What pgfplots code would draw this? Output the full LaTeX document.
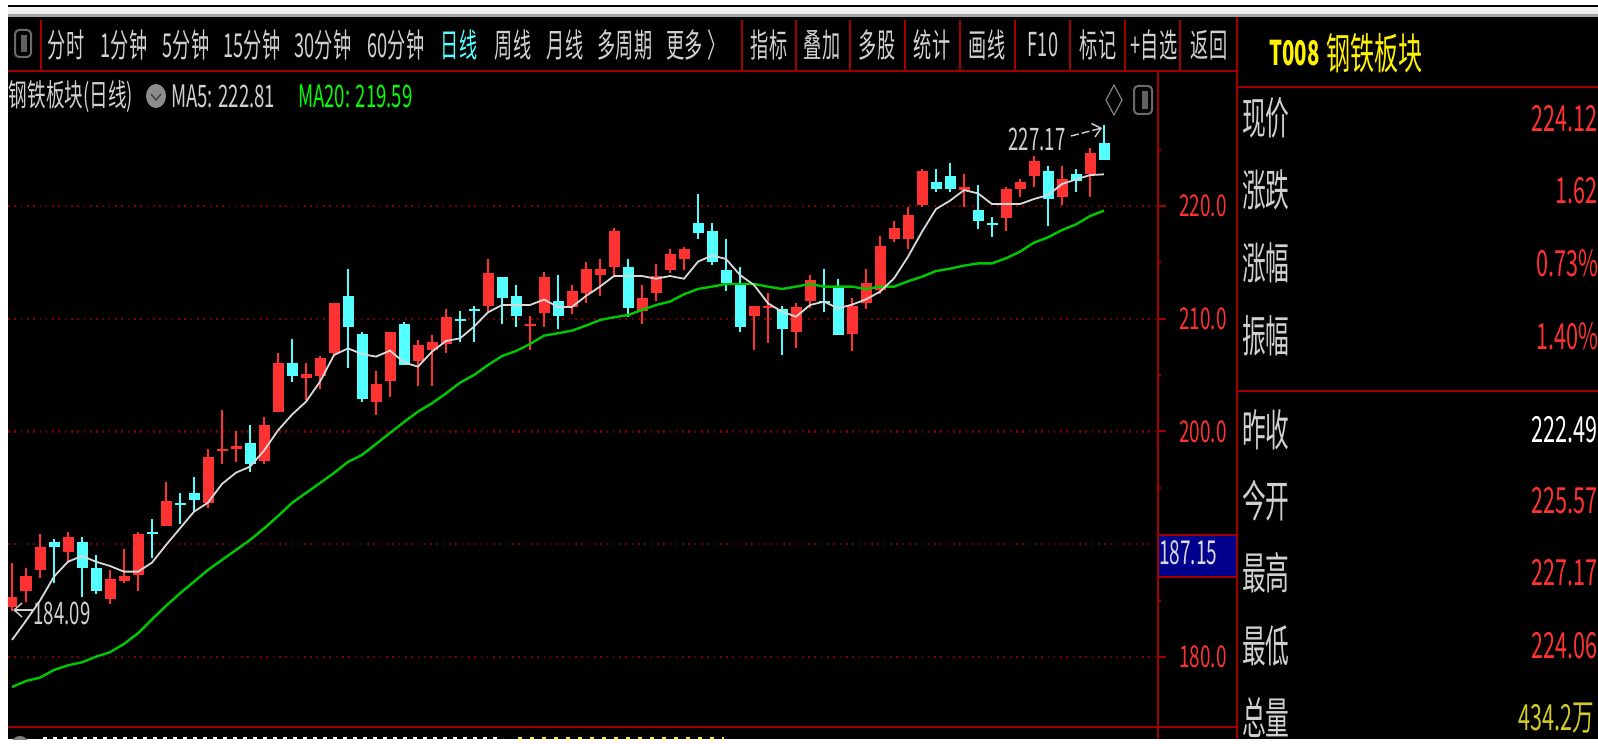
\documentclass[border=0pt]{standalone}
\usepackage{fontspec}
\usepackage{pgfplots}
\usepackage{pgfplotstable}
\pgfplotsset{compat=1.18}
\usetikzlibrary{arrows.meta}
\setmainfont{Noto Sans CJK SC}

\definecolor{upred}{HTML}{FF3232}
\definecolor{downcyan}{HTML}{54FFFF}
\definecolor{linered}{HTML}{A00000}
\definecolor{gridred}{HTML}{800000}
\definecolor{ma5}{HTML}{D8D8D8}
\definecolor{ma20}{HTML}{00C800}
\definecolor{uigray}{HTML}{D0D0D0}

% x  bot  top  lo  hi
\pgfplotstableread{
x bot top lo hi
0 184.47 185.35 184.09 188.37
1 185.85 187.21 184.91 187.92
2 187.72 189.79 186.98 190.91
4 189.28 190.65 188.45 191.12
7 185.17 186.95 184.70 187.72
8 186.77 187.19 186.53 189.55
9 187.27 190.88 185.85 191.12
11 191.62 193.87 191.62 195.49
14 193.69 197.77 193.19 198.48
15 198.24 198.48 197.12 201.91
16 198.48 198.72 197.33 200.08
18 197.36 200.55 197.12 201.26
19 201.70 206.04 201.70 206.99
21 204.71 205.13 202.79 206.04
22 204.92 206.52 203.74 206.69
23 206.99 211.37 206.78 211.37
26 202.61 204.24 201.46 205.39
27 204.48 208.85 203.09 208.85
29 206.28 207.67 204.03 208.11
30 207.23 207.91 204.03 208.56
31 207.76 210.18 206.99 210.89
34 211.13 214.09 210.63 215.27
37 209.33 209.50 207.23 210.24
38 210.48 213.67 209.30 214.12
40 211.01 212.49 210.42 212.97
41 212.25 214.38 211.37 215.03
42 213.88 214.38 212.05 215.27
43 214.56 217.81 213.88 218.02
45 210.72 211.81 209.53 212.97
46 212.31 213.79 211.60 214.83
47 214.32 215.71 214.09 216.16
48 215.27 216.16 214.32 216.39
53 210.25 211.13 207.23 211.13
54 210.92 211.13 207.88 212.25
56 208.82 211.07 207.43 211.37
57 211.60 213.44 210.92 213.88
60 208.62 211.13 207.17 211.81
61 211.43 213.20 210.86 214.38
62 212.55 216.45 212.19 217.34
63 217.10 218.02 216.83 218.70
64 217.10 219.17 216.15 219.88
65 220.09 223.07 219.88 223.25
68 221.41 221.71 219.88 222.83
71 218.94 221.48 217.81 221.71
72 221.48 222.16 220.77 222.39
73 222.63 224.00 221.71 224.46
75 220.77 222.36 220.09 223.55
77 222.84 224.67 220.77 225.17
}\upcandles

\pgfplotstableread{
x bot top lo hi
3 189.79 190.23 186.53 190.44
5 187.92 190.17 185.35 190.67
6 185.85 187.87 185.59 189.05
10 190.88 191.12 188.81 192.27
12 193.45 193.63 191.80 194.58
13 193.93 194.58 192.98 195.94
17 197.12 198.95 196.44 200.55
20 204.92 206.04 204.42 208.17
24 209.30 212.05 205.60 214.38
25 202.85 208.62 202.61 208.85
28 205.87 209.53 205.87 209.68
32 209.77 209.95 207.91 210.69
33 210.69 210.89 207.91 211.13
35 211.81 213.67 209.50 213.67
36 210.24 212.05 209.30 212.96
39 210.25 211.60 209.06 213.91
44 210.92 214.56 210.18 215.27
49 217.57 218.46 217.10 221.03
50 215.06 217.75 214.77 218.46
51 213.14 214.32 212.49 217.10
52 209.30 212.99 208.82 214.56
55 209.06 210.89 206.79 211.13
58 211.37 211.60 210.63 214.38
59 208.59 212.79 208.59 213.50
66 221.48 222.16 221.21 223.31
67 221.48 222.63 221.21 223.78
69 218.70 219.64 217.99 221.89
70 218.31 218.46 217.28 218.99
74 220.59 223.07 218.26 223.55
76 222.19 222.83 221.21 223.31
78 224.12 225.57 224.06 227.17
}\downcandles

\pgfplotstableread{
x ma5 ma20
0 181.51 177.34
1 183.22 177.87
2 185.00 178.17
3 187.13 178.85
4 188.45 179.26
5 188.96 179.53
6 188.45 180.03
7 188.07 180.42
8 187.57 181.16
9 187.57 182.10
10 188.37 183.34
11 189.93 184.53
12 191.41 185.65
13 192.89 186.68
14 193.69 187.72
15 195.35 188.61
16 196.35 189.49
17 196.88 190.38
18 198.30 191.40
19 200.10 192.50
20 201.50 193.66
21 202.64 194.55
22 204.42 195.43
23 206.78 196.32
24 207.37 197.30
25 206.87 197.92
26 206.64 198.89
27 207.17 199.87
28 206.13 200.84
29 205.75 201.76
30 207.08 202.50
31 208.03 203.38
32 208.26 204.33
33 209.30 205.01
34 210.57 205.90
35 211.22 206.69
36 211.22 207.14
37 211.22 207.76
38 211.70 208.50
39 211.05 208.71
40 211.05 208.95
41 212.02 209.39
42 212.85 209.89
43 213.79 210.13
44 213.79 210.33
45 213.79 210.78
46 213.55 211.22
47 213.79 211.52
48 213.55 212.17
49 215.06 212.64
50 215.62 212.85
51 215.30 213.08
52 213.88 213.08
53 212.99 213.08
54 211.37 212.85
55 210.63 212.64
56 210.18 212.85
57 211.22 213.08
58 211.52 212.85
59 210.92 212.85
60 211.25 212.85
61 211.72 212.64
62 212.40 212.85
63 213.58 212.85
64 215.50 213.32
65 217.72 213.73
66 219.73 214.23
67 220.47 214.44
68 221.41 214.71
69 221.12 214.91
70 220.17 214.91
71 220.17 215.36
72 220.17 215.95
73 220.62 216.75
74 220.97 217.22
75 221.95 217.87
76 222.36 218.37
77 222.74 219.11
78 222.81 219.59
}\malines

% table, colour
\newcommand{\candles}[2]{
  \addplot[draw=#2, line width=0.7pt, mark=none, forget plot,
    quiver={u=0, v=\thisrow{hi}-\thisrow{lo}}]
    table[x=x, y=lo] {#1};
  \addplot[draw=#2, line width=5.5pt, mark=none, forget plot,
    quiver={u=0, v=\thisrow{top}-\thisrow{bot}}]
    table[x=x, y=bot] {#1};
}

% em in pt, squeezed as in the screenshot
\tikzset{
  ui/.style={inner sep=0pt, outer sep=0pt, xscale=0.55, text=uigray, font=\fontsize{16.5}{17}\selectfont},
  head/.style={inner sep=0pt, outer sep=0pt, xscale=0.6, anchor=west, text=uigray, font=\fontsize{15.5}{16}\selectfont},
  side/.style={inner sep=0pt, outer sep=0pt, xscale=0.54, anchor=west, text=uigray, font=\fontsize{22}{23}\selectfont},
  val/.style={inner sep=0pt, outer sep=0pt, xscale=0.6, anchor=east, text=upred, font=\fontsize{18}{19}\selectfont},
  note/.style={inner sep=0pt, outer sep=0pt, xscale=0.6, text=uigray, font=\fontsize{15.5}{16}\selectfont},
}

\begin{document}
\begin{tikzpicture}
\useasboundingbox (0,0) rectangle (799pt,-371.5pt);
\begin{scope}[x=0.5pt, y=-0.5pt]
  \fill[white] (0,0) rectangle (1598,743);
  \fill[black] (8,5) rectangle (1598,7);
  \fill[black!6] (8,7) rectangle (1598,14);
  \fill[black!35] (8,14) rectangle (1598,17);
  \fill[black] (8,17) rectangle (1598,739);
\end{scope}

\begin{axis}[
  at={(4pt,-363.5pt)}, anchor=south west,
  scale only axis, width=575pt, height=327.5pt,
  xmin=-0.2857, xmax=81.857, ymin=173.79, ymax=231.885,
  axis x line*=bottom, axis y line*=right,
  axis line style={draw=linered, line width=1pt},
  xtick=\empty,
  ytick={180,200,210,220},
  extra y ticks={190}, extra y tick labels={},
  minor ytick={185,195,205,215,225},
  tickwidth=4pt, subtickwidth=1.5pt, tick align=outside,
  y tick style={draw=linered, line width=1pt},
  ymajorgrids,
  grid style={draw=gridred, line width=1.2pt, dash pattern=on 0.8pt off 2.35pt},
  /pgf/number format/assume math mode=true,
  /pgf/number format/fixed, /pgf/number format/fixed zerofill, /pgf/number format/precision=1,
  yticklabel style={text=upred, font=\fontsize{15}{16}\selectfont, xscale=0.63, anchor=west, inner sep=0pt, xshift=10.5pt},
]
  \candles{\upcandles}{upred}
  \candles{\downcandles}{downcyan}
  \addplot[ma20, line width=1.2pt] table[x=x, y=ma20] {\malines};
  \addplot[ma5, line width=0.9pt] table[x=x, y=ma5] {\malines};
\end{axis}

\begin{scope}[x=0.5pt, y=-0.5pt]
  \clip (8,17) rectangle (1598,739);
  % frame lines
  \draw[linered, line width=1pt] (8,71) -- (1237,71);
  \draw[linered, line width=1pt] (8,727) -- (1237,727);
  \draw[linered, line width=0.8pt] (1158,71) -- (1158,739);
  \draw[linered, line width=0.8pt] (1237,17) -- (1237,739);
  \draw[linered, line width=1pt] (1237,87) -- (1598,87);
  \draw[linered, line width=1pt] (1237,391) -- (1598,391);
  \foreach \d in {41,742,796,850,905,960,1015,1070,1125,1180}
    \draw[linered, line width=0.6pt] (\d,20) -- (\d,71);

  % toolbar
  \draw[black!58, line width=1pt, rounded corners=2pt] (15,30) rectangle (31,57);
  \fill[black!62] (21,35) rectangle (27,52);
  \node[ui] at (66,45) {分时};
  \node[ui] at (124,45) {1分钟};
  \node[ui] at (186,45) {5分钟};
  \node[ui] at (252,45) {15分钟};
  \node[ui] at (323,45) {30分钟};
  \node[ui] at (396,45) {60分钟};
  \node[ui, text=downcyan] at (459,45) {日线};
  \node[ui] at (513,45) {周线};
  \node[ui] at (565,45) {月线};
  \node[ui] at (625,45) {多周期};
  \node[ui] at (696,45) {更多 〉};
  \node[ui] at (769,45) {指标};
  \node[ui] at (822,45) {叠加};
  \node[ui] at (877,45) {多股};
  \node[ui] at (932,45) {统计};
  \node[ui] at (987,45) {画线};
  \node[ui] at (1043,45) {F10};
  \node[ui] at (1098,45) {标记};
  \node[ui] at (1154,45) {+自选};
  \node[ui] at (1209,45) {返回};

  % chart header
  \node[head] at (9,96) {钢铁板块(日线)};
  \fill[black!45] (156,96) ellipse (10 and 12);
  \draw[black!75, line width=0.7pt] (151,94) -- (156,100) -- (161,94);
  \node[head] at (171,96) {MA5: 222.81};
  \node[head, text=green] at (298,96) {MA20: 219.59};
  \draw[black!50, line width=0.6pt] (1114,85) -- (1122,100) -- (1114,115) -- (1106,100) -- cycle;
  \draw[black!58, line width=1pt, rounded corners=2pt] (1134,86) rectangle (1152,114);
  \fill[black!62] (1142,91) rectangle (1148,109);

  % high and low marks
  \node[note] at (62,613) {184.09};
  \draw[uigray, line width=0.7pt, -{Straight Barb[length=4pt,width=7pt]}] (33,610) -- (13,610);
  \node[note] at (1037,139) {227.17};
  \draw[uigray, line width=0.7pt, dash pattern=on 4pt off 1.5pt, -{Straight Barb[length=4pt,width=7pt]}] (1071,136) -- (1102,128);

  % last price box
  \fill[blue!55!black] (1159,536) rectangle (1236,576);
  \draw[linered, line width=1pt] (1158,535) -- (1237,535) (1158,577) -- (1237,577);
  \node[ui, anchor=west, text=black!15!white, xscale=1.05] at (1159,553) {187.15};

  % right panel
  \node[inner sep=0pt, anchor=west, xscale=0.6, text=yellow, font=\fontsize{17}{18}\selectfont\bfseries] at (1269,53) {T008};
  \node[inner sep=0pt, anchor=west, xscale=0.56, text=yellow, font=\fontsize{21.5}{22}\selectfont] at (1326,53) {钢铁板块};
  \node[side] at (1242,118) {现价};
  \node[side] at (1242,190) {涨跌};
  \node[side] at (1242,263) {涨幅};
  \node[side] at (1242,336) {振幅};
  \node[side] at (1242,430) {昨收};
  \node[side] at (1242,501) {今开};
  \node[side] at (1242,573) {最高};
  \node[side] at (1242,646) {最低};
  \node[side] at (1242,718) {总量};
  \node[val] at (1597,119) {224.12};
  \node[val] at (1597,191) {1.62};
  \node[val] at (1598,263) {0.73\%};
  \node[val] at (1598,336) {1.40\%};
  \node[val, text=white] at (1597,430) {222.49};
  \node[val] at (1597,501) {225.57};
  \node[val] at (1597,573) {227.17};
  \node[val] at (1597,646) {224.06};
  \node[val, text=black!20!yellow] at (1594,718) {434.2万};

  % tops of the next row, cut off by the screenshot
  \fill[black!50] (20,745) circle (9);
  \draw[white, line width=1pt, dash pattern=on 2pt off 3pt] (43,738) -- (503,738);
  \draw[yellow, line width=1pt, dash pattern=on 2pt off 4pt] (518,738) -- (724,738);
\end{scope}
\end{tikzpicture}
\end{document}
